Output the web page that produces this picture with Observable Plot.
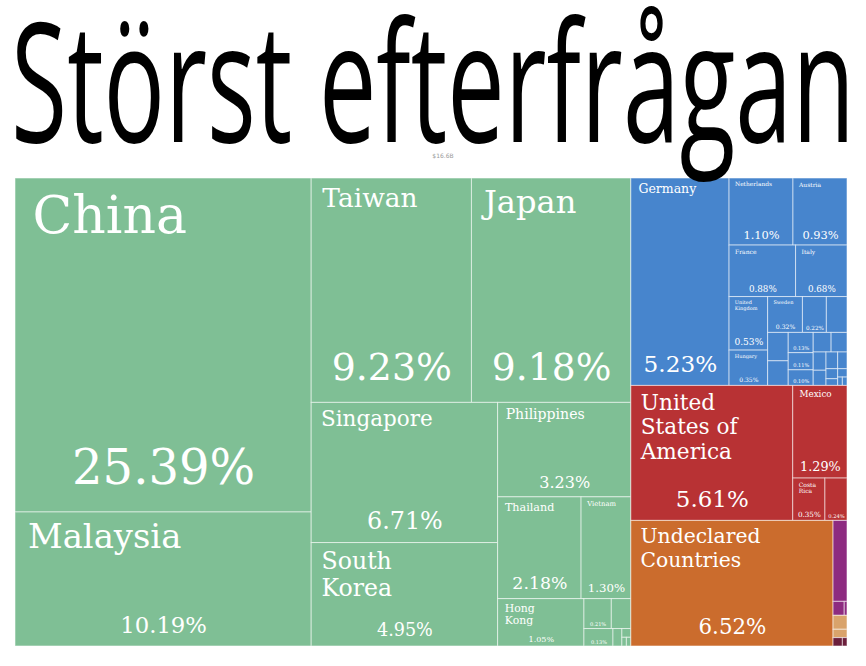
<!DOCTYPE html>
<html>
<head>
<meta charset="utf-8">
<script src="https://cdn.jsdelivr.net/npm/d3@7"></script>
<script src="https://cdn.jsdelivr.net/npm/@observablehq/plot@0.6"></script>
<style>
  html, body { margin: 0; padding: 0; background: #fff; }
  #wrap { position: relative; width: 866px; height: 666px; overflow: hidden; }
  #title { position: absolute; left: 0; top: 0; pointer-events: none; }
</style>
</head>
<body>
<div id="wrap"><div id="chart"></div></div>
<script>
// ---------- data (percent share) ----------
const titleText = "Störst efterfrågan";
const subtitleText = "$16.6B";

const asiaNames  = ["China","Malaysia","Taiwan","Japan","Singapore","South Korea","Philippines","Thailand","Vietnam","Hong Kong","Indonesia","India","Bangladesh","Sri Lanka","United Arab Emirates","Macau","Cambodia"];
const asiaValues = [25.39,10.19,9.23,9.18,6.71,4.95,3.23,2.18,1.30,1.05,0.21,0.15,0.13,0.04,0.02,0.01,0.01];

const europeNames  = ["Germany","Netherlands","Austria","France","Italy","United Kingdom","Hungary","Sweden","Czech Republic","Slovakia","Spain","Belgium","Switzerland","Ireland","Finland","Denmark","Poland","Romania","Portugal","Norway","Russia","Estonia","Slovenia","Greece","Lithuania","Malta"];
const europeValues = [5.23,1.10,0.93,0.88,0.68,0.53,0.35,0.32,0.22,0.19,0.15,0.13,0.13,0.11,0.10,0.09,0.08,0.06,0.05,0.05,0.04,0.03,0.02,0.02,0.01,0.01];

const northAmericaNames  = ["United States of America","Mexico","Costa Rica","Canada"];
const northAmericaValues = [5.61,1.29,0.35,0.24];

const undeclaredNames  = ["Undeclared Countries"];
const undeclaredValues = [6.52];

const africaNames  = ["South Africa","Egypt","Nigeria"];
const africaValues = [0.29,0.04,0.01];

const southAmericaNames  = ["Brazil","Chile"];
const southAmericaValues = [0.05,0.03];

const oceaniaNames  = ["Australia","New Zealand"];
const oceaniaValues = [0.02,0.01];

const continents = ["Asia","Europe","North America","Undeclared","Africa","South America","Oceania"];
const continentNames  = [asiaNames, europeNames, northAmericaNames, undeclaredNames, africaNames, southAmericaNames, oceaniaNames];
const continentValues = [asiaValues, europeValues, northAmericaValues, undeclaredValues, africaValues, southAmericaValues, oceaniaValues];

// ---------- styles ----------
const palette = {
  "Asia": "#7fbf95",
  "Europe": "#4785cd",
  "North America": "#b83234",
  "Undeclared": "#cb6c2d",
  "Africa": "#8d2b80",
  "South America": "#d9a36b",
  "Oceania": "#6b1f3c"
};
const W = 832, H = 468;
const labelFont = "DejaVu Serif";

// ---------- layout ----------
const tree = {
  name: "root",
  children: continents.map((c, i) => ({
    name: c,
    children: continentNames[i].map((n, j) => ({name: n, value: continentValues[i][j], cont: c}))
  }))
};
const root = d3.hierarchy(tree).sum(d => d.value || 0).sort((a, b) => b.value - a.value);
d3.treemap().tile(d3.treemapSquarify.ratio(1)).size([W, H]).paddingInner(0)(root);
const leaves = root.leaves().map(n => ({
  x0: n.x0, x1: n.x1, y0: n.y0, y1: n.y1,
  name: n.data.name, value: n.data.value, cont: n.data.cont
}));

// ---------- label fitting ----------
const ctx = document.createElement("canvas").getContext("2d");
function em(text) { ctx.font = `100px "${labelFont}"`; return ctx.measureText(text).width / 100; }
function wrap(words, s, avail) {
  const lines = []; let cur = "";
  for (const w of words) {
    if (em(w) * s > avail) return null;
    const t = cur ? cur + " " + w : w;
    if (em(t) * s <= avail) cur = t; else { lines.push(cur); cur = w; }
  }
  if (cur) lines.push(cur);
  return lines;
}
function fitName(name, w, h) {
  const words = name.split(" ");
  const maxS = Math.min(52, 0.17 * Math.sqrt(w * h));
  for (let s = maxS; s >= 3; s -= 0.25) {
    const lines = wrap(words, s, 0.6 * w);
    if (!lines) continue;
    if (lines.length * s * 1.15 <= 0.65 * h) return {size: s, lines};
  }
  return null;
}
const nameLabels = [], pctLabels = [];
for (const c of leaves) {
  const w = c.x1 - c.x0, h = c.y1 - c.y0;
  const nf = fitName(c.name, w, h);
  if (nf && nf.size >= 4.8) {
    const s = w * h < 4000 ? Math.min(nf.size, 6) : nf.size;
    nf.lines.forEach((ln, i) => nameLabels.push({
      x: c.x0 + 4 + 0.25 * s,
      y: c.y0 + 2 + s * (1 + 1.15 * i),
      text: ln, size: s
    }));
  }
  const pct = c.value.toFixed(2) + "%";
  const pe = em(pct);
  const ps = Math.min(Math.max(0.17 * h, 5), 0.75 * w / pe, 48);
  if (0.65 * w / pe >= 4.5 && h >= 15) {
    pctLabels.push({x: (c.x0 + c.x1) / 2, y: c.y1 - 0.6 * ps, text: pct, size: ps});
  }
}

// ---------- plot ----------
const chart = Plot.plot({
  width: 866, height: 666, margin: 0,
  x: {domain: [0, W], range: [15, 15 + W], axis: null},
  y: {domain: [0, H], range: [178, 178 + H], axis: null},
  color: {type: "identity"},
  style: {background: "white"},
  marks: [
    Plot.rect(leaves, {
      x1: "x0", x2: "x1", y1: "y0", y2: "y1",
      fill: d => palette[d.cont],
      stroke: "white", strokeOpacity: 0.55, strokeWidth: 1
    }),
    Plot.text(nameLabels, {
      x: "x", y: "y", text: "text", fontSize: d => d.size,
      textAnchor: "start", lineAnchor: "bottom",
      fill: "white", fontFamily: labelFont
    }),
    Plot.text(pctLabels, {
      x: "x", y: "y", text: "text", fontSize: d => d.size,
      textAnchor: "middle", lineAnchor: "bottom",
      fill: "white", fontFamily: labelFont
    })
  ]
});
document.getElementById("chart").appendChild(chart);

// ---------- title overlay ----------
const ns = "http://www.w3.org/2000/svg";
const tsvg = document.createElementNS(ns, "svg");
tsvg.setAttribute("id", "title");
tsvg.setAttribute("width", 866);
tsvg.setAttribute("height", 200);
const t = document.createElementNS(ns, "text");
t.setAttribute("x", 11);
t.setAttribute("y", 142);
t.setAttribute("font-family", "Open Sans, sans-serif");
t.setAttribute("font-size", 166);
t.setAttribute("font-weight", 400);
t.setAttribute("textLength", 844);
t.setAttribute("lengthAdjust", "spacingAndGlyphs");
t.setAttribute("fill", "#000");
t.textContent = titleText;
tsvg.appendChild(t);
const st = document.createElementNS(ns, "text");
st.setAttribute("x", 443);
st.setAttribute("y", 158);
st.setAttribute("font-family", "DejaVu Sans, sans-serif");
st.setAttribute("font-size", 6);
st.setAttribute("text-anchor", "middle");
st.setAttribute("fill", "#999");
st.textContent = subtitleText;
tsvg.appendChild(st);
document.getElementById("wrap").appendChild(tsvg);
</script>
</body>
</html>
